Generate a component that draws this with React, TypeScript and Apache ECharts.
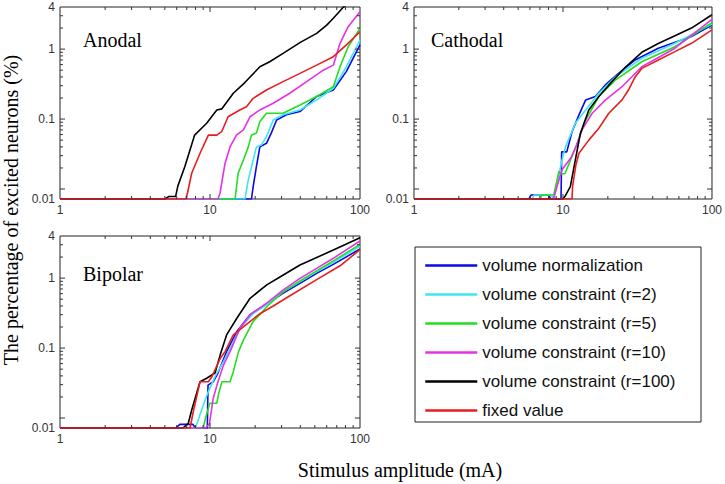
import React, { useEffect, useRef } from 'react';
import * as echarts from 'echarts';

// floor value of the curves (no excited neurons), drawn on the bottom edge and labelled "0.01"
const F = 0.0072;
const Y_MIN = 0.0072;
const Y_MAX = 4;
const X_MIN = 1;
const X_MAX = 100;

const SERIES_NAMES = [
  'volume normalization',
  'volume constraint (r=2)',
  'volume constraint (r=5)',
  'volume constraint (r=10)',
  'volume constraint (r=100)',
  'fixed value',
];
const SERIES_COLORS = ['#0a0ae6', '#3ee6f0', '#22dd22', '#e632e6', '#000000', '#e61e1e'];
const PANEL_TITLES = ['Anodal', 'Cathodal', 'Bipolar'];

const X_MAJOR_TICKS = [10];
const X_MINOR_TICKS = [2, 3, 4, 5, 6, 7, 8, 9, 20, 30, 40, 50, 60, 70, 80, 90];
const Y_MAJOR_TICKS = [0.01, 0.1, 1];
const Y_MINOR_TICKS = [0.02, 0.03, 0.04, 0.05, 0.06, 0.07, 0.08, 0.09, 0.2, 0.3, 0.4, 0.5, 0.6, 0.7, 0.8, 0.9, 2, 3];

// ---- Anodal ----
const ANODAL_NORM = [[1, F], [18.9, F], [19.4, 0.0108], [20.4, 0.021], [21.5, 0.04], [23.8, 0.045], [25.6, 0.063], [27.8, 0.097], [32.3, 0.115], [39.8, 0.128], [51.4, 0.21], [66.4, 0.26], [81.2, 0.48], [100, 1.15]];
const ANODAL_R2 = [[1, F], [17.1, F], [18.0, 0.0135], [19.4, 0.026], [20.4, 0.04], [22.1, 0.043], [23.8, 0.056], [26.4, 0.097], [30.7, 0.115], [39.8, 0.135], [51.4, 0.188], [66.4, 0.275], [81.2, 0.56], [100, 1.35]];
const ANODAL_R5 = [[1, F], [14.7, F], [15.4, 0.0168], [16.7, 0.026], [18.0, 0.04], [18.9, 0.059], [20.4, 0.063], [21.5, 0.092], [23.8, 0.121], [30.7, 0.121], [39.8, 0.159], [51.4, 0.21], [66.4, 0.29], [73.6, 0.56], [83.4, 1.08], [100, 1.98]];
const ANODAL_R10 = [[1, F], [11.3, F], [11.66, 0.0087], [12.6, 0.0234], [13.6, 0.04], [15.0, 0.059], [16.7, 0.07], [18.5, 0.108], [21.5, 0.135], [26.4, 0.168], [34, 0.234], [44.1, 0.343], [56.9, 0.5], [66.4, 0.59], [73.6, 1.21], [83.4, 2.09], [100, 3.43]];
const ANODAL_R100 = [[1, F], [5.0, F], [5.3, 0.0078], [5.9, 0.0078], [6.1, 0.011], [6.8, 0.021], [7.9, 0.059], [9.5, 0.087], [11.1, 0.135], [12, 0.14], [14.3, 0.234], [17, 0.33], [21.5, 0.56], [25, 0.66], [30.7, 0.87], [40, 1.25], [51.4, 1.68], [60, 2.2], [66.4, 2.76], [77.6, 4.0], [100, 6.0]];
const ANODAL_FIXED = [[1, F], [6.9, F], [7.1, 0.009], [7.55, 0.0168], [8.58, 0.0325], [9.75, 0.059], [11.1, 0.059], [11.96, 0.066], [13.2, 0.108], [15.8, 0.135], [17.5, 0.15], [19.4, 0.198], [23.8, 0.26], [30.7, 0.343], [39.8, 0.45], [51.4, 0.59], [66.4, 0.78], [81.2, 1.15], [100, 1.77]];

// ---- Cathodal ----
const CATHODAL_NORM = [[1, F], [5.9, F], [6.1, 0.0082], [8.0, 0.0082], [8.3, F], [9.7, F], [9.8, 0.034], [10.6, 0.034], [11.5, 0.066], [12.8, 0.115], [14.2, 0.188], [16.5, 0.21], [19.3, 0.31], [23.6, 0.45], [30.5, 0.7], [43.6, 1.03], [72.8, 1.51], [100, 2.21]];
const CATHODAL_R2 = [[1, F], [6.2, F], [6.4, 0.0082], [8.3, 0.0082], [8.7, F], [9.85, 0.026], [10.4, 0.04], [12.1, 0.087], [14.2, 0.135], [17.4, 0.234], [22.4, 0.4], [33.8, 0.74], [56.4, 1.21], [100, 2.28]];
const CATHODAL_R5 = [[1, F], [7.0, F], [7.2, 0.0082], [8.5, 0.0082], [8.7, 0.0085], [9.4, 0.018], [9.6, 0.0165], [10.3, 0.0165], [12.2, 0.04], [14.2, 0.097], [17.4, 0.21], [22.4, 0.36], [33.8, 0.66], [56.4, 1.08], [100, 2.39]];
const CATHODAL_R10 = [[1, F], [8.6, F], [9.85, 0.0188], [11.3, 0.028], [12.2, 0.04], [13.4, 0.07], [15.7, 0.121], [19.3, 0.188], [24.9, 0.29], [33.8, 0.56], [56.4, 1.03], [100, 2.67]];
const CATHODAL_R100 = [[1, F], [10.0, F], [10.4, 0.0081], [11.2, 0.0108], [12.1, 0.026], [13.1, 0.063], [14.9, 0.135], [17.4, 0.21], [21.3, 0.343], [26.2, 0.55], [33.8, 0.9], [43.6, 1.2], [56.4, 1.55], [72.8, 2.0], [100, 3.1]];
const CATHODAL_FIXED = [[1, F], [11.5, F], [11.6, 0.011], [12.2, 0.022], [12.8, 0.0325], [14.9, 0.05], [17.4, 0.074], [20.3, 0.121], [24.9, 0.188], [27.5, 0.26], [30.5, 0.4], [33.8, 0.53], [37.4, 0.59], [43.6, 0.7], [56.4, 0.92], [72.8, 1.21], [100, 1.88]];

// ---- Bipolar ----
const BIPOLAR_NORM = [[1, F], [5.9, F], [6.3, 0.0081], [7.7, 0.0081], [8.0, F], [9.6, F], [9.7, 0.0296], [10.5, 0.033], [11.3, 0.044], [12.9, 0.089], [15.1, 0.172], [18.5, 0.3], [23.9, 0.43], [30.8, 0.61], [39.8, 0.84], [51.4, 1.17], [66.4, 1.57], [100, 2.61]];
const BIPOLAR_R2 = [[1, F], [8.0, F], [9.03, 0.0154], [9.75, 0.0239], [10.8, 0.039], [12.3, 0.064], [13.6, 0.099], [15.8, 0.19], [19.4, 0.31], [23.9, 0.42], [30.8, 0.64], [39.8, 0.89], [51.4, 1.24], [66.4, 1.68], [100, 2.88]];
const BIPOLAR_R5 = [[1, F], [9.0, F], [9.3, 0.0096], [9.9, 0.0154], [10.0, 0.0163], [11.1, 0.0163], [11.4, 0.022], [12.0, 0.033], [13.6, 0.033], [14.3, 0.046], [15.5, 0.089], [16.7, 0.13], [19.4, 0.24], [21.5, 0.3], [23.9, 0.39], [30.8, 0.64], [39.8, 0.91], [51.4, 1.27], [66.4, 1.76], [100, 3.04]];
const BIPOLAR_R10 = [[1, F], [9.3, F], [9.9, 0.0081], [10.5, 0.019], [11.3, 0.033], [12.3, 0.057], [13.6, 0.089], [15.8, 0.19], [18.5, 0.3], [23.9, 0.44], [30.8, 0.68], [39.8, 0.99], [51.4, 1.38], [66.4, 1.92], [100, 3.39]];
const BIPOLAR_R100 = [[1, F], [6.6, F], [7.17, 0.0084], [7.55, 0.013], [8.58, 0.033], [9.5, 0.037], [10.8, 0.044], [11.7, 0.08], [12.9, 0.154], [15.1, 0.267], [18.5, 0.515], [23.9, 0.8], [30.8, 1.11], [39.8, 1.54], [66.4, 2.52], [100, 3.78]];
const BIPOLAR_FIXED = [[1, F], [7.36, F], [7.74, 0.0124], [8.58, 0.033], [9.75, 0.033], [10.3, 0.039], [11.7, 0.071], [12.6, 0.089], [14.3, 0.154], [17.6, 0.22], [21.5, 0.31], [26.4, 0.4], [34.1, 0.56], [51.4, 0.95], [73.6, 1.5], [100, 2.55]];

const PANEL_DATA = [
  [ANODAL_NORM, ANODAL_R2, ANODAL_R5, ANODAL_R10, ANODAL_R100, ANODAL_FIXED],
  [CATHODAL_NORM, CATHODAL_R2, CATHODAL_R5, CATHODAL_R10, CATHODAL_R100, CATHODAL_FIXED],
  [BIPOLAR_NORM, BIPOLAR_R2, BIPOLAR_R5, BIPOLAR_R10, BIPOLAR_R100, BIPOLAR_FIXED],
];

const GRIDS = [
  { left: 60, top: 7, width: 300, height: 192 },
  { left: 414, top: 7, width: 300, height: 192 },
  { left: 60, top: 236, width: 300, height: 192 },
];
const TITLE_POS = [
  [83, 40],
  [431, 40],
  [83, 274],
];

const SANS = '"Liberation Sans", Arial, Helvetica, sans-serif';
const SERIF = '"Liberation Serif", "Times New Roman", Times, serif';

function fmtY(v: number) {
  if (v < 0.009) return '0.01';
  if (v < 0.011) return '';
  return String(Number(v.toPrecision(3)));
}

export default function App() {
  const ref = useRef<HTMLDivElement>(null);
  useEffect(() => {
    if (!ref.current) return;
    const chart = echarts.init(ref.current, null, { renderer: 'svg' });

    const tickData = [
      ...X_MAJOR_TICKS.map((v) => [v, 1, 0, 1]),
      ...X_MINOR_TICKS.map((v) => [v, 1, 0, 0]),
      ...Y_MAJOR_TICKS.map((v) => [10, v, 1, 1]),
      ...Y_MINOR_TICKS.map((v) => [10, v, 1, 0]),
    ];

    const renderTicks = (params: any, api: any) => {
      const cs = params.coordSys;
      const kind = api.value(2);
      const len = api.value(3) ? 5 : 3;
      const st = { stroke: '#333', lineWidth: 1 };
      if (kind === 0) {
        const px = api.coord([api.value(0), 1])[0];
        return {
          type: 'group',
          children: [
            { type: 'line', shape: { x1: px, y1: cs.y + cs.height, x2: px, y2: cs.y + cs.height - len }, style: st },
            { type: 'line', shape: { x1: px, y1: cs.y, x2: px, y2: cs.y + len }, style: st },
          ],
        };
      }
      const py = api.coord([10, api.value(1)])[1];
      return {
        type: 'group',
        children: [
          { type: 'line', shape: { x1: cs.x, y1: py, x2: cs.x + len, y2: py }, style: st },
          { type: 'line', shape: { x1: cs.x + cs.width, y1: py, x2: cs.x + cs.width - len, y2: py }, style: st },
        ],
      };
    };

    const series: any[] = [];
    PANEL_DATA.forEach((panel, gi) => {
      panel.forEach((d, si) => {
        series.push({
          type: 'line',
          name: SERIES_NAMES[si],
          xAxisIndex: gi,
          yAxisIndex: gi,
          data: d,
          symbol: 'none',
          clip: true,
          lineStyle: { width: 1.6, color: SERIES_COLORS[si] },
          itemStyle: { color: SERIES_COLORS[si] },
          emphasis: { disabled: true },
        });
      });
      series.push({
        type: 'custom',
        name: 'ticks' + gi,
        xAxisIndex: gi,
        yAxisIndex: gi,
        data: tickData,
        encode: { x: 0, y: 1 },
        renderItem: renderTicks,
        silent: true,
        clip: false,
        z: 5,
      });
    });

    const option: any = {
      animation: false,
      grid: GRIDS.map((g) => ({ ...g, show: true, borderColor: '#222', borderWidth: 1, backgroundColor: 'transparent', containLabel: false })),
      xAxis: GRIDS.map((_, i) => ({
        type: 'log',
        logBase: 10,
        gridIndex: i,
        min: X_MIN,
        max: X_MAX,
        axisLine: { show: false },
        axisTick: { show: false },
        splitLine: { show: false },
        axisLabel: {
          showMinLabel: true,
          showMaxLabel: true,
          fontSize: 12,
          fontFamily: SANS,
          color: '#333',
          margin: 5,
          formatter: (v: number) => String(Number(v.toPrecision(3))),
        },
      })),
      yAxis: GRIDS.map((_, i) => ({
        type: 'log',
        logBase: 10,
        gridIndex: i,
        min: Y_MIN,
        max: Y_MAX,
        axisLine: { show: false },
        axisTick: { show: false },
        splitLine: { show: false },
        axisLabel: {
          showMinLabel: true,
          showMaxLabel: true,
          fontSize: 12,
          fontFamily: SANS,
          color: '#333',
          margin: 5,
          formatter: fmtY,
        },
      })),
      legend: {
        data: SERIES_NAMES,
        orient: 'vertical',
        left: 424,
        top: 257,
        padding: 0,
        itemWidth: 52,
        itemHeight: 14,
        itemGap: 12,
        selectedMode: false,
        itemStyle: { opacity: 0 },
        lineStyle: { width: 2.5 },
        textStyle: { fontSize: 17, fontFamily: SANS, color: '#111', lineHeight: 16 },
      },
      graphic: [
        {
          type: 'rect',
          shape: { x: 415, y: 247, width: 286, height: 175 },
          style: { fill: 'transparent', stroke: '#222', lineWidth: 1 },
          silent: true,
        },
        ...PANEL_TITLES.map((t, i) => ({
          type: 'text',
          x: TITLE_POS[i][0],
          y: TITLE_POS[i][1],
          style: { text: t, fontSize: 20, fontFamily: SERIF, fill: '#000', align: 'left', verticalAlign: 'middle' },
          silent: true,
        })),
        {
          type: 'text',
          x: 11,
          y: 210,
          rotation: Math.PI / 2,
          style: {
            text: 'The percentage of excited neurons (%)',
            fontSize: 20,
            fontFamily: SERIF,
            fill: '#000',
            align: 'center',
            verticalAlign: 'middle',
          },
          silent: true,
        },
        {
          type: 'text',
          x: 400,
          y: 470,
          style: {
            text: 'Stimulus amplitude (mA)',
            fontSize: 20,
            fontFamily: SERIF,
            fill: '#000',
            align: 'center',
            verticalAlign: 'middle',
          },
          silent: true,
        },
      ],
      series,
    };

    chart.setOption(option);
    return () => chart.dispose();
  }, []);

  return (
    <div
      ref={ref}
      style={{ position: 'absolute', left: 0, top: 0, width: 725, height: 484, background: '#fff' }}
    />
  );
}
